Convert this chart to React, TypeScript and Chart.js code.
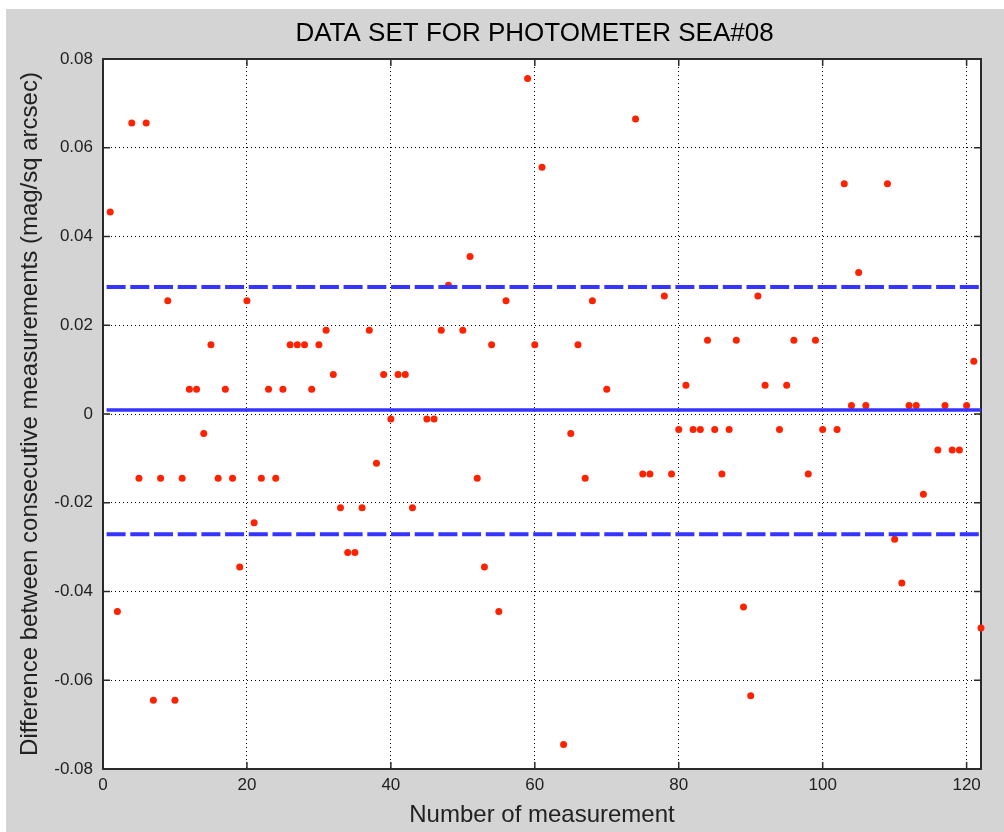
import React, { useEffect, useRef } from "react";
import { Chart, registerables } from "chart.js";

Chart.register(...registerables);

// ---- data ----
const measurementNo = [
  1, 2, 4, 5, 6, 7, 8, 9, 10, 11, 12, 13, 14, 15, 16, 17, 18, 19, 20, 21, 22, 23, 24, 25,
  26, 27, 28, 29, 30, 31, 32, 33, 34, 35, 36, 37, 38, 39, 40, 41, 42, 43, 45, 46, 47, 48,
  50, 51, 52, 53, 54, 55, 56, 59, 60, 61, 64, 65, 66, 67, 68, 70, 74, 75, 76, 78, 79, 80,
  81, 82, 83, 84, 85, 86, 87, 88, 89, 90, 91, 92, 94, 95, 96, 98, 99, 100, 102, 103, 104,
  105, 106, 109, 110, 111, 112, 113, 114, 116, 117, 118, 119, 120, 121, 122,
];
const diffValues = [
  0.0455, -0.0445, 0.0656, -0.0145, 0.0656, -0.0645, -0.0145, 0.0255, -0.0645, -0.0145,
  0.0056, 0.0056, -0.0044, 0.0156, -0.0145, 0.0056, -0.0145, -0.0345, 0.0255, -0.0245,
  -0.0145, 0.0056, -0.0145, 0.0056, 0.0156, 0.0156, 0.0156, 0.0056, 0.0156, 0.0189,
  0.0089, -0.0211, -0.0312, -0.0312, -0.0211, 0.0189, -0.0111, 0.0089, -0.0011, 0.0089,
  0.0089, -0.0211, -0.0011, -0.0011, 0.0189, 0.029, 0.0189, 0.0355, -0.0145, -0.0345,
  0.0156, -0.0445, 0.0255, 0.0756, 0.0156, 0.0556, -0.0745, -0.0044, 0.0156, -0.0145,
  0.0255, 0.0056, 0.0665, -0.0135, -0.0135, 0.0266, -0.0135, -0.0035, 0.0065, -0.0035,
  -0.0035, 0.0166, -0.0035, -0.0135, -0.0035, 0.0166, -0.0435, -0.0635, 0.0266, 0.0065,
  -0.0035, 0.0065, 0.0166, -0.0135, 0.0166, -0.0035, -0.0035, 0.0519, 0.0019, 0.0319,
  0.0019, 0.0519, -0.0282, -0.0381, 0.0019, 0.0019, -0.0181, -0.0081, 0.0019, -0.0081,
  -0.0081, 0.0019, 0.0119, -0.0482,
];
const meanLevel = [0.0009];
const sigmaLevels = [0.0286, -0.0271];
const levelSpan = [0.5, 122];
const xTickValues = [0, 20, 40, 60, 80, 100, 120];
const yTickValues = [-0.08, -0.06, -0.04, -0.02, 0, 0.02, 0.04, 0.06, 0.08];
const xRange = [0, 122];
const yRange = [-0.08, 0.08];

const titleText = "DATA SET FOR PHOTOMETER SEA#08";
const xTitle = "Number of measurement";
const yTitle = "Difference between consecutive measurements (mag/sq arcsec)";

const FONT = '"Liberation Sans", Arial, Helvetica, sans-serif';

const framePlugin = {
  id: "frame",
  beforeDraw(chart: any) {
    const { ctx, chartArea: a } = chart;
    ctx.save();
    ctx.fillStyle = "#ffffff";
    ctx.fillRect(a.left, a.top, a.right - a.left, a.bottom - a.top);
    ctx.restore();
  },
  beforeDatasetsDraw(chart: any) {
    const { ctx, chartArea: a, scales } = chart;
    const L = 7;
    ctx.save();
    ctx.strokeStyle = "#2a2a2a";
    ctx.lineWidth = 1.5;
    ctx.beginPath();
    scales.x.ticks.forEach((t: any) => {
      const p = scales.x.getPixelForValue(t.value);
      if (p <= a.left + 1 || p >= a.right - 1) return;
      ctx.moveTo(p, a.bottom);
      ctx.lineTo(p, a.bottom - L);
      ctx.moveTo(p, a.top);
      ctx.lineTo(p, a.top + L);
    });
    scales.y.ticks.forEach((t: any) => {
      const p = scales.y.getPixelForValue(t.value);
      if (p <= a.top + 1 || p >= a.bottom - 1) return;
      ctx.moveTo(a.left, p);
      ctx.lineTo(a.left + L, p);
      ctx.moveTo(a.right, p);
      ctx.lineTo(a.right - L, p);
    });
    ctx.stroke();
    ctx.lineWidth = 2;
    ctx.strokeStyle = "#2a2a2a";
    ctx.strokeRect(a.left, a.top, a.right - a.left, a.bottom - a.top);
    ctx.restore();
  },
  afterDraw(chart: any) {
    const { ctx } = chart;
    ctx.save();
    ctx.font = `26px ${FONT}`;
    ctx.fillStyle = "#000";
    ctx.textAlign = "center";
    ctx.textBaseline = "middle";
    ctx.fillText(titleText, 528.5, 25);
    ctx.restore();
  },
};

export default function App() {
  const ref = useRef<HTMLCanvasElement | null>(null);

  useEffect(() => {
    const canvas = ref.current;
    if (!canvas) return;
    const points = measurementNo.map((x, i) => ({ x, y: diffValues[i] }));
    const levelLine = (y: number) => levelSpan.map((x) => ({ x, y }));
    const blue = "#3535ff";

    const chart = new Chart(canvas, {
      type: "scatter",
      data: {
        datasets: [
          {
            type: "line",
            data: levelLine(sigmaLevels[0]),
            borderColor: blue,
            borderWidth: 4,
            borderDash: [19, 4.7],
            pointRadius: 0,
            fill: false,
            order: 0,
          } as any,
          {
            type: "line",
            data: levelLine(meanLevel[0]),
            borderColor: blue,
            borderWidth: 3.5,
            pointRadius: 0,
            fill: false,
            order: 0,
          } as any,
          {
            type: "line",
            data: levelLine(sigmaLevels[1]),
            borderColor: blue,
            borderWidth: 4,
            borderDash: [19, 4.7],
            pointRadius: 0,
            fill: false,
            order: 0,
          } as any,
          {
            type: "scatter",
            data: points,
            backgroundColor: "#ff2200",
            borderWidth: 0,
            pointRadius: 3.5,
            clip: false,
            order: 1,
          } as any,
        ],
      },
      options: {
        animation: false,
        responsive: false,
        events: [],
        layout: { padding: { top: 50, right: 23, bottom: 0, left: 0 } },
        plugins: {
          legend: { display: false },
          tooltip: { enabled: false },
          title: { display: false },
        },
        scales: {
          x: {
            type: "linear",
            min: xRange[0],
            max: xRange[1],
            afterFit: (s: any) => {
              s.height = 63;
            },
            afterBuildTicks: (s: any) => {
              s.ticks = xTickValues.map((value) => ({ value }));
            },
            ticks: {
              includeBounds: false,
              padding: 6,
              color: "#222",
              font: { family: FONT, size: 17 },
              callback: (v: any) => String(v),
            },
            grid: { color: "#000", lineWidth: 1, drawTicks: false },
            border: { display: false, dash: [1, 3] },
            title: {
              display: true,
              text: xTitle,
              color: "#222",
              font: { family: FONT, size: 24 },
              padding: { top: 0, bottom: 2 },
            },
          },
          y: {
            type: "linear",
            min: yRange[0],
            max: yRange[1],
            afterFit: (s: any) => {
              s.width = 97;
            },
            afterBuildTicks: (s: any) => {
              s.ticks = yTickValues.map((value) => ({ value }));
            },
            ticks: {
              includeBounds: false,
              padding: 10,
              color: "#222",
              font: { family: FONT, size: 17 },
              callback: (v: any) => String(Number(Number(v).toFixed(2))),
            },
            grid: { color: "#000", lineWidth: 1, drawTicks: false },
            border: { display: false, dash: [1, 3] },
            title: {
              display: true,
              text: yTitle,
              color: "#222",
              font: { family: FONT, size: 24 },
              padding: { top: 9.6, bottom: 0 },
            },
          },
        },
      },
      plugins: [framePlugin],
    } as any);

    return () => chart.destroy();
  }, []);

  return (
    <div
      style={{
        position: "absolute",
        left: 0,
        top: 0,
        width: 1004,
        height: 832,
        background: "#ffffff",
        overflow: "hidden",
      }}
    >
      <canvas
        ref={ref}
        width={998}
        height={823}
        style={{
          position: "absolute",
          left: 6,
          top: 9,
          width: 998,
          height: 823,
          background: "#d4d4d4",
        }}
      />
    </div>
  );
}
